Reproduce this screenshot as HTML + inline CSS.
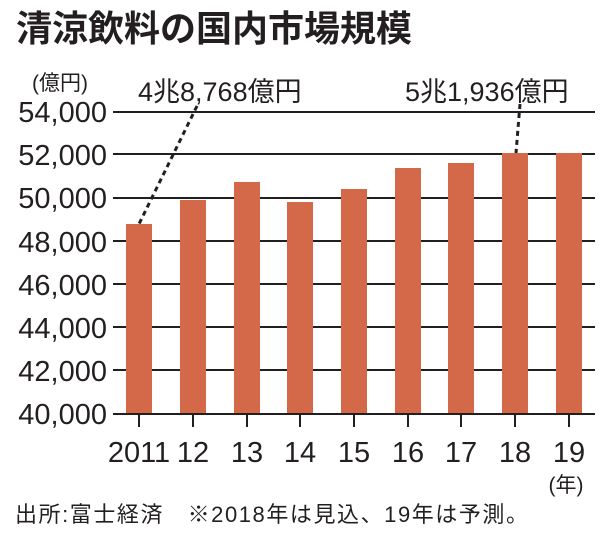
<!DOCTYPE html>
<html><head><meta charset="utf-8"><style>
body{margin:0;width:600px;height:533px;background:#fff;overflow:hidden}
svg{display:block}
text{font-family:"Liberation Sans","Noto Sans CJK JP",sans-serif;fill:#231f20}
</style></head><body>
<svg width="600" height="533" viewBox="0 0 600 533">
<text x="16" y="41" font-size="36" font-weight="bold" style="font-family:'Noto Sans CJK JP',sans-serif">清涼飲料の国内市場規模</text>
<text x="32" y="90" font-size="21">(億円)</text>
<g font-size="29" text-anchor="end">
<text x="107" y="122">54,000</text>
<text x="107" y="165">52,000</text>
<text x="107" y="208">50,000</text>
<text x="107" y="252">48,000</text>
<text x="107" y="295">46,000</text>
<text x="107" y="338">44,000</text>
<text x="107" y="381">42,000</text>
<text x="107" y="424">40,000</text>
</g>
<g stroke="#231f20" stroke-width="2">
<line x1="113" y1="112" x2="595" y2="112"/>
<line x1="113" y1="154" x2="595" y2="154"/>
<line x1="113" y1="198" x2="595" y2="198"/>
<line x1="113" y1="241" x2="595" y2="241"/>
<line x1="113" y1="284" x2="595" y2="284"/>
<line x1="113" y1="327" x2="595" y2="327"/>
<line x1="113" y1="370" x2="595" y2="370"/>
</g>
<g fill="#d4694a">
<rect x="126" y="224" width="26" height="190"/>
<rect x="180" y="200" width="26" height="214"/>
<rect x="234" y="182" width="26" height="232"/>
<rect x="287" y="202" width="26" height="212"/>
<rect x="341" y="189" width="26" height="225"/>
<rect x="395" y="168" width="26" height="246"/>
<rect x="448" y="163" width="26" height="251"/>
<rect x="502" y="153" width="26" height="261"/>
<rect x="556" y="153" width="26" height="261"/>
</g>
<line x1="113" y1="414" x2="595" y2="414" stroke="#231f20" stroke-width="2"/>
<g stroke="#231f20" stroke-width="2">
<line x1="139" y1="414" x2="139" y2="427"/><line x1="193" y1="414" x2="193" y2="427"/>
<line x1="247" y1="414" x2="247" y2="427"/><line x1="300" y1="414" x2="300" y2="427"/>
<line x1="354" y1="414" x2="354" y2="427"/><line x1="408" y1="414" x2="408" y2="427"/>
<line x1="461" y1="414" x2="461" y2="427"/><line x1="515" y1="414" x2="515" y2="427"/>
<line x1="569" y1="414" x2="569" y2="427"/>
</g>
<g font-size="29" text-anchor="middle">
<text x="139" y="462">2011</text><text x="193" y="462">12</text><text x="247" y="462">13</text>
<text x="300" y="462">14</text><text x="354" y="462">15</text><text x="408" y="462">16</text>
<text x="461" y="462">17</text><text x="515" y="462">18</text><text x="569" y="462">19</text>
</g>
<text x="566" y="492" font-size="21" text-anchor="middle">(年)</text>
<g stroke="#231f20" stroke-width="3" stroke-dasharray="5,4">
<line x1="197" y1="106" x2="139" y2="224"/>
<line x1="520" y1="104" x2="516" y2="153"/>
</g>
<text x="138" y="101" font-size="27">4兆8,768億円</text>
<text x="405" y="101" font-size="27">5兆1,936億円</text>
<text x="15" y="522" font-size="22" textLength="513" lengthAdjust="spacing">出所:富士経済　※2018年は見込、19年は予測。</text>
</svg>
</body></html>
